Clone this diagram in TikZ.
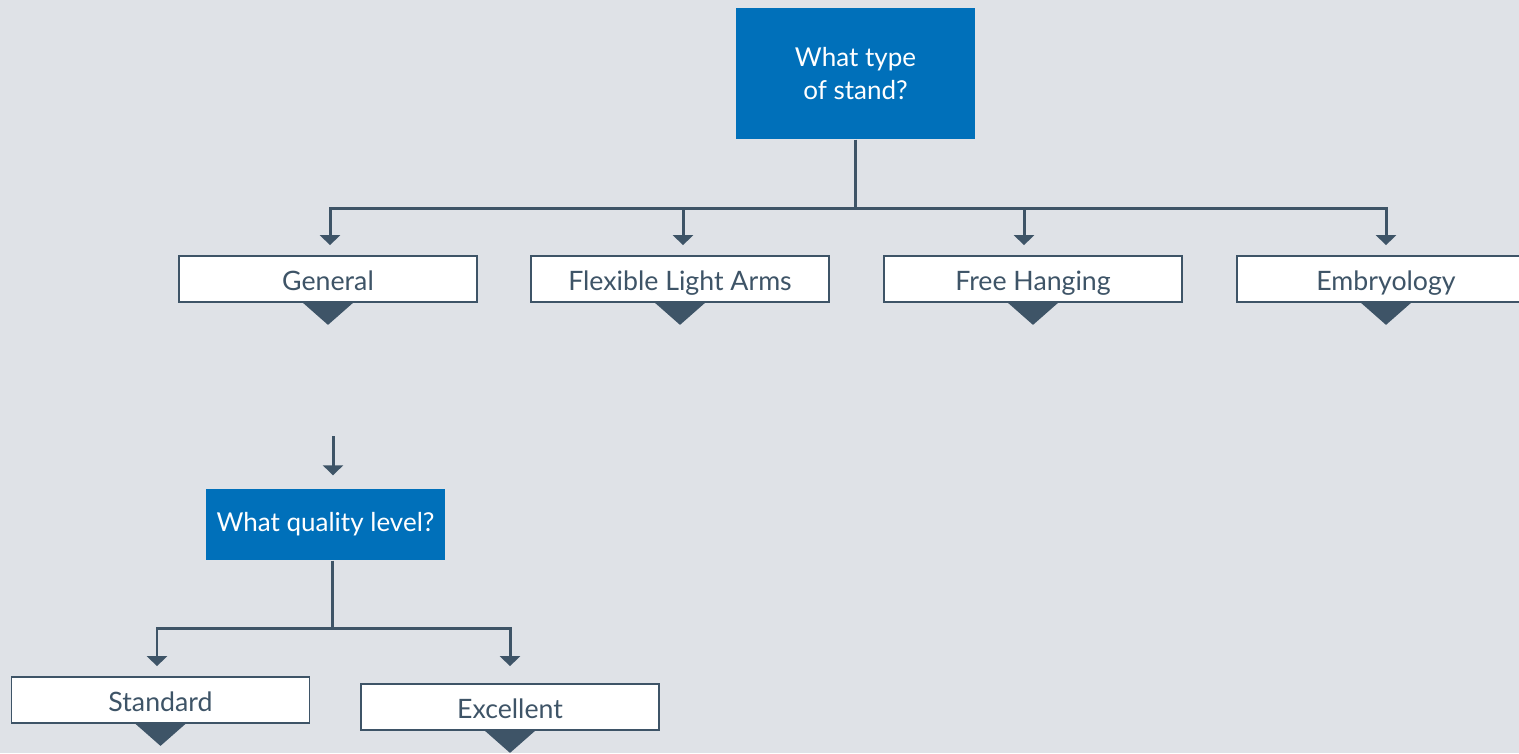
\documentclass[tikz,border=0pt]{standalone}
\usepackage{fontspec}
\setmainfont{Lato}
\usepackage{xcolor}
\usepackage{tikz}
\usetikzlibrary{arrows.meta}

\definecolor{bgc}{HTML}{DFE2E7}
\definecolor{bluec}{HTML}{0070BA}
\definecolor{linec}{HTML}{3E5467}

\begin{document}
\begin{tikzpicture}[
question/.style={fill=bluec,text=white,inner sep=0pt,align=center,
  font=\fontsize{7.4}{9.2}\selectfont},
answer/.style={draw=linec,line width=0.5pt,fill=white,text=linec,
  minimum width=2.98cm,minimum height=0.46cm,inner sep=0pt,
  text height=7.2pt,text depth=0.6pt,
  font=\fontsize{7.6}{9}\selectfont},
link/.style={draw=linec,line width=0.85pt},
arr/.style={link,-{Triangle[width=2mm,length=1mm]}}
]
% The background
\fill[bgc] (0,0) rectangle (15.19,-7.53);
\useasboundingbox (0,0) rectangle (15.19,-7.53);

% The questions
\node[question,minimum width=2.39cm,minimum height=1.31cm] (type) at (8.555,-0.735) {What type\\of stand?};
\node[question,minimum width=2.39cm,minimum height=0.71cm] (qual) at (3.255,-5.245) {What quality level?};

% The answers
\node[answer] (gen) at (3.28,-2.79) {General};
\node[answer] (flex) at (6.80,-2.79) {Flexible Light Arms};
\node[answer] (free) at (10.33,-2.79) {Free Hanging};
\node[answer] (emb) at (13.86,-2.79) {Embryology};
\node[answer] (std) at (1.605,-7.00) {Standard};
\node[answer] (exc) at (5.10,-7.07) {Excellent};

% The markers below the answers
\foreach \n in {gen,flex,free,emb,std,exc}
  \fill[linec] (\n.south) +(-0.25,0) -- +(0.25,0) -- +(0,-0.22) -- cycle;

% The connectors
\draw[link] (type.south) -- ++(0,-0.69) coordinate (bus);
\draw[arr,shorten >=0.1cm] (bus) -| ([xshift=0.02cm]gen.north);
\draw[arr,shorten >=0.1cm] (bus) -| ([xshift=0.03cm]flex.north);
\draw[arr,shorten >=0.1cm] (bus) -| ([xshift=-0.09cm]free.north);
\draw[arr,shorten >=0.1cm] (bus) -| (emb.north);

\coordinate (gtail) at (3.33,-4.36);
\draw[arr,shorten >=0.13cm] (gtail) -- (gtail |- qual.north);

\draw[link] ([xshift=0.065cm]qual.south) -- ++(0,-0.68) coordinate (qbus);
\draw[arr,shorten >=0.1cm] (qbus) -| ([xshift=-0.035cm]std.north);
\draw[arr,shorten >=0.17cm] (qbus) -| (exc.north);
\end{tikzpicture}
\end{document}
